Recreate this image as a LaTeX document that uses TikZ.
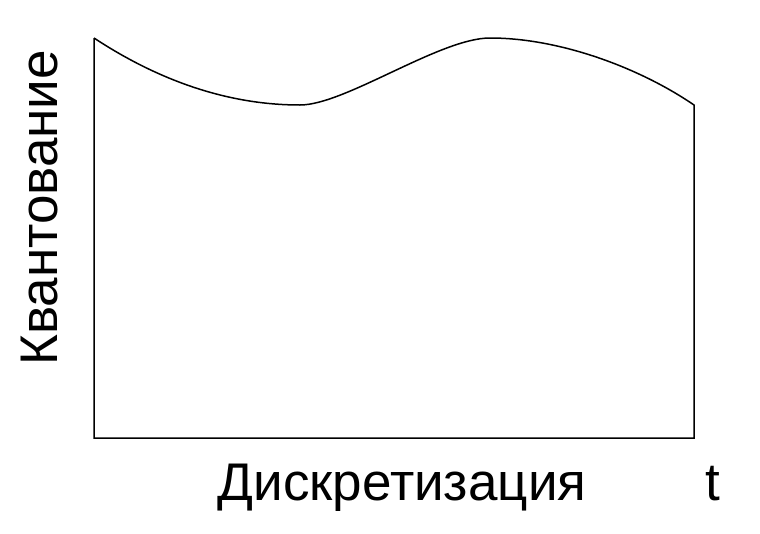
\documentclass[tikz,border=0pt]{standalone}
\usepackage{fontspec}
\setmainfont{Liberation Sans}
\usetikzlibrary{positioning}

\begin{document}
\begin{tikzpicture}[x=1pt, y=-1pt, style={font=\fontsize{53}{53}\selectfont}, line width=1.5pt, line join=miter]
	\useasboundingbox (0,0) rectangle (760,533);
	\coordinate (A) at (94,38);
	\coordinate (O) at (94,438);
	\coordinate (E) at (694,438);
	\coordinate (B) at (694,105);
	\coordinate (lo) at (300,105);
	\coordinate (hi) at (490,38);
	\draw (A) -- (O) -- (E) -- (B) .. controls (640,68) and (560,38) .. (hi) .. controls (440,38) and (345,105) .. (lo) .. controls (240,105) and (170,88) .. (A);
	\node[anchor=base] (disc) at (402,500) {Дискретизация};
	\node[anchor=base] (t) at (713,500) {t};
	\node[anchor=base, rotate=90] (quant) at (57,208) {Квантование};
\end{tikzpicture}
\end{document}
